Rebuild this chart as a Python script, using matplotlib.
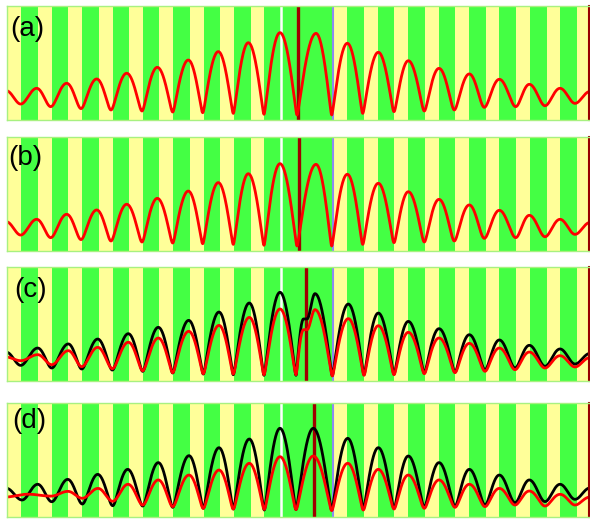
import numpy as np
import matplotlib.pyplot as plt

plt.rcParams['font.family'] = ['Liberation Sans', 'DejaVu Sans']

# stripe layout (position units, same as the curves)
green_stripes = [(21, 37.7), (51.7, 68.3), (82, 99), (112.7, 129.3), (142.7, 159.3),
                 (173, 190), (203.7, 220), (234, 250.7), (264.3, 281),
                 (281, 332.7),
                 (347.3, 364), (377.7, 394.3), (408.3, 425), (438.7, 455.3),
                 (469, 485.7), (499.3, 516), (529.7, 546.7), (560, 576.7)]
white_edge = 281
blue_edge = 332.7
marker_pos = [297.5, 299, 305.7, 313.7]
labels = ['(a)', '(b)', '(c)', '(d)']

# fringe extrema: positions and heights (0..1 of panel)
xa = [6, 20.7, 36.7, 50.7, 66.7, 81, 96.7, 111, 126.7, 142, 157.3, 172.7, 188.3,
      202.7, 218.3, 233.3, 248.3, 264, 280, 297, 316, 331.7, 347.3, 362.7, 378.3,
      394, 408.3, 424.3, 439, 454.3, 469.3, 484.3, 499.3, 515.7, 529.3, 545, 560,
      575, 590]
ya_red = [0.258, 0.14, 0.278, 0.117, 0.322, 0.10, 0.36, 0.088, 0.41, 0.079, 0.462,
          0.07, 0.526, 0.064, 0.60, 0.058, 0.678, 0.05, 0.766, 0.044, 0.76, 0.044,
          0.673, 0.058, 0.594, 0.073, 0.52, 0.079, 0.453, 0.088, 0.404, 0.111,
          0.357, 0.117, 0.313, 0.125, 0.278, 0.146, 0.25]

xb = xa
yb_red = ya_red

xc = [6, 20.7, 37.7, 51.7, 68.3, 81.7, 97.7, 112.3, 128.3, 142.7, 158.3, 172.7,
      188.7, 203.3, 219, 233.3, 249.3, 264, 280, 296, 303.5, 307, 315, 332.3,
      348.3, 364, 378.3, 394, 408.3, 424.3, 439, 455, 469.3, 485, 499.3, 515,
      529.3, 545, 560, 575, 590]
yc_black = [0.254, 0.137, 0.289, 0.114, 0.325, 0.105, 0.368, 0.096, 0.415, 0.085,
            0.471, 0.07, 0.532, 0.061, 0.605, 0.055, 0.684, 0.05, 0.778, 0.05,
            0.544, 0.544, 0.766, 0.047, 0.675, 0.055, 0.596, 0.061, 0.523, 0.07,
            0.459, 0.079, 0.406, 0.099, 0.36, 0.114, 0.313, 0.129, 0.281, 0.149,
            0.242]
yc_red = [0.21, 0.178, 0.231, 0.143, 0.266, 0.126, 0.295, 0.108, 0.34, 0.09,
          0.377, 0.073, 0.436, 0.064, 0.488, 0.061, 0.558, 0.055, 0.632, 0.055,
          0.45, 0.45, 0.626, 0.044, 0.547, 0.05, 0.485, 0.055, 0.427, 0.064,
          0.377, 0.073, 0.33, 0.085, 0.289, 0.099, 0.254, 0.114, 0.222, 0.123,
          0.205]

xd_black = [6, 22, 37.7, 51.7, 67.7, 82.3, 97.7, 112.7, 127.7, 142.7, 158.3, 172.7,
            189, 203.3, 219, 233.3, 249.3, 264.3, 280, 296, 313.3, 331.7, 347.7,
            363.3, 378.3, 394, 408.3, 424.3, 439, 455, 469.3, 485, 499.3, 515,
            529.3, 545, 560, 575, 590]
yd_black = [0.253, 0.149, 0.287, 0.134, 0.33, 0.114, 0.374, 0.099, 0.418, 0.096,
            0.477, 0.085, 0.538, 0.076, 0.608, 0.07, 0.684, 0.061, 0.778, 0.065,
            0.778, 0.061, 0.69, 0.07, 0.608, 0.076, 0.535, 0.085, 0.477, 0.096,
            0.418, 0.105, 0.368, 0.126, 0.325, 0.135, 0.287, 0.155, 0.255]
xd_red = [5, 28, 51, 68, 82.3, 98, 112.7, 128, 142.7, 158.3, 172.7, 189, 203.3,
          219, 233.3, 249.3, 264.3, 280, 296, 313.3, 331.7, 347.7, 363.3, 378.3,
          394, 408.3, 424.3, 439, 455, 469.3, 485, 499.3, 515, 529.3, 545, 560,
          575, 590]
yd_red = [0.175, 0.2, 0.183, 0.225, 0.164, 0.251, 0.138, 0.287, 0.105, 0.325,
          0.091, 0.368, 0.076, 0.412, 0.07, 0.471, 0.067, 0.529, 0.065, 0.535,
          0.056, 0.471, 0.061, 0.418, 0.07, 0.368, 0.076, 0.325, 0.085, 0.287,
          0.091, 0.251, 0.105, 0.228, 0.096, 0.199, 0.105, 0.175]

panels = [
    [(xa, ya_red, 'red')],
    [(xb, yb_red, 'red')],
    [(xc, yc_black, 'black'), (xc, yc_red, 'red')],
    [(xd_black, yd_black, 'black'), (xd_red, yd_red, 'red')],
]


def fringe(xs, ys, n=40):
    # arcs between successive extrema: sharp where a minimum nears zero,
    # rounder (more sine-like) out in the wings
    xs = np.asarray(xs, float)
    ys = np.asarray(ys, float)
    t = np.linspace(0, 1, n, endpoint=False)
    s = np.sin(np.pi * t / 2) ** 2
    px, py = [], []
    for i in range(len(xs) - 1):
        p = np.interp(min(ys[i], ys[i + 1]), [0.07, 0.15], [2.0, 1.25])
        px.append(xs[i] + (xs[i + 1] - xs[i]) * t)
        py.append((ys[i] ** p + (ys[i + 1] ** p - ys[i] ** p) * s) ** (1 / p))
    px.append([xs[-1]])
    py.append([ys[-1]])
    return np.concatenate(px), np.concatenate(py)


W, H = 590, 519
fig = plt.figure(figsize=(W / 100, H / 100), dpi=100)

tops = [6, 137, 267, 403]
ph = 114
label_y = [0.794, 0.816, 0.80, 0.846]
label_x = [0.005, 0.003, 0.012, 0.009]

for k, curves in enumerate(panels):
    ax = fig.add_axes([7 / W, 1 - (tops[k] + ph) / H, 582 / W, ph / H])
    ax.set_facecolor('#ffff99')
    for x0, x1 in green_stripes:
        ax.axvspan(x0, x1, color='#44ff44', lw=0)
    ax.axvline(white_edge, color='white', lw=1.8)
    ax.axvline(blue_edge, color='#8c8cf0', lw=1.5)
    ax.axvline(marker_pos[k], color='#a00000', lw=2.4)
    for xs, ys, c in curves:
        x, y = fringe(xs, ys)
        ax.plot(x, y, color=c, lw=2.0, solid_capstyle='round')
    ax.set_xlim(7, 589)
    ax.set_ylim(0, 1)
    ax.set_xticks([])
    ax.set_yticks([])
    for side in ['top', 'left', 'bottom']:
        ax.spines[side].set_color('#a8f080')
        ax.spines[side].set_linewidth(1.0)
    ax.spines['right'].set_color('#990000')
    ax.spines['right'].set_linewidth(1.5)
    ax.text(label_x[k], label_y[k], labels[k], transform=ax.transAxes,
            fontsize=20, ha='left', va='center')

fig.savefig('out.png', dpi=100)
